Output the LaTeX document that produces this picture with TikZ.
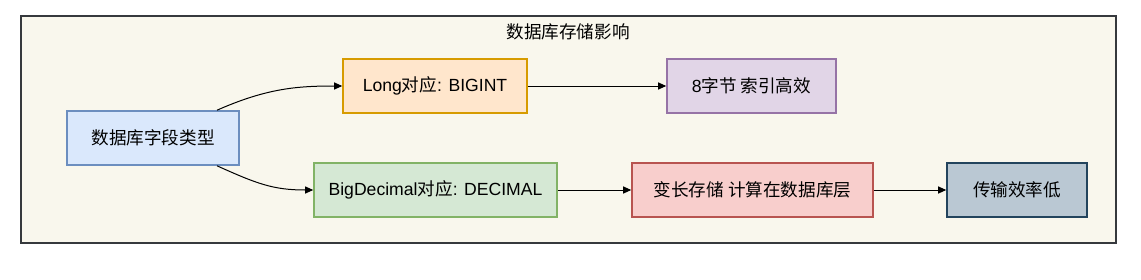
\documentclass[tikz,border=0pt]{standalone}
\usepackage{fontspec}
\setmainfont{Noto Sans CJK SC}
\newfontfamily\latinfont{Liberation Sans}
\newcommand{\lt}[1]{{\latinfont #1}}
\usetikzlibrary{arrows.meta}
\definecolor{frameFill}{HTML}{F9F7ED}
\definecolor{frameDraw}{HTML}{36393D}
\definecolor{blueFill}{HTML}{DAE8FC}
\definecolor{blueDraw}{HTML}{6C8EBF}
\definecolor{orangeFill}{HTML}{FFE6CC}
\definecolor{orangeDraw}{HTML}{D79B00}
\definecolor{purpleFill}{HTML}{E1D5E7}
\definecolor{purpleDraw}{HTML}{9673A6}
\definecolor{greenFill}{HTML}{D5E8D4}
\definecolor{greenDraw}{HTML}{82B366}
\definecolor{redFill}{HTML}{F8CECC}
\definecolor{redDraw}{HTML}{B85450}
\definecolor{darkFill}{HTML}{BAC8D3}
\definecolor{darkDraw}{HTML}{23445D}
\tikzset{
  box/.style={draw, line width=1.6pt, inner sep=0pt, font=\fontsize{17.6}{20}\selectfont},
  conn/.style={line width=1pt, -{Triangle[length=8pt,width=7pt]}},
}
\begin{document}
\begin{tikzpicture}[x=1pt,y=-1pt]
\useasboundingbox (0,0) rectangle (1141,279);
\node[draw=frameDraw, fill=frameFill, line width=1.8pt, minimum width=1095pt, minimum height=227pt, inner sep=0pt] (frame) at (568.5,129.5) {};
\node[font=\fontsize{17.6}{20}\selectfont] (title) at (568,32) {数据库存储影响};
\node[box, draw=blueDraw, fill=blueFill, minimum width=172pt, minimum height=54pt] (db) at (153,138) {数据库字段类型};
\node[box, draw=orangeDraw, fill=orangeFill, minimum width=184pt, minimum height=54pt] (long) at (435,86) {\lt{Long}对应\lt{: BIGINT}};
\node[box, draw=purpleDraw, fill=purpleFill, minimum width=169pt, minimum height=54pt] (eight) at (751.5,86) {\lt{8}字节 索引高效};
\node[box, draw=greenDraw, fill=greenFill, minimum width=243pt, minimum height=54pt] (bd) at (435.5,190) {\lt{BigDecimal}对应\lt{: DECIMAL}};
\node[box, draw=redDraw, fill=redFill, minimum width=241pt, minimum height=54pt] (var) at (752.5,190) {变长存储 计算在数据库层};
\node[box, draw=darkDraw, fill=darkFill, minimum width=140pt, minimum height=54pt] (low) at (1017,190) {传输效率低};
\draw[conn] ([xshift=64pt]db.north) .. controls +(50,-22) and +(-45,0) .. (long.west);
\draw[conn] ([xshift=64pt]db.south) .. controls +(40,18) and +(-40,0) .. (bd.west);
\draw[conn] (long) -- (eight);
\draw[conn] (bd) -- (var);
\draw[conn] (var) -- (low);
\end{tikzpicture}
\end{document}
